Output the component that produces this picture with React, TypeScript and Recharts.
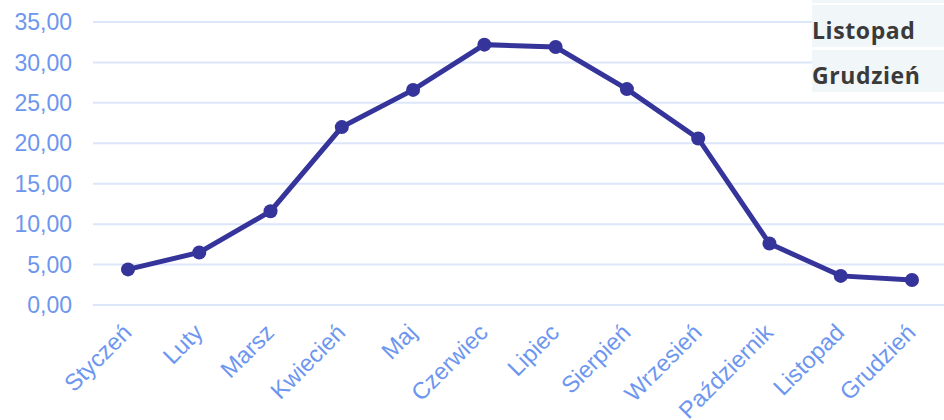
import React from "react";
import { LineChart, Line, XAxis, YAxis, CartesianGrid } from "recharts";

const months = ["Styczeń", "Luty", "Marsz", "Kwiecień", "Maj", "Czerwiec", "Lipiec", "Sierpień", "Wrzesień", "Październik", "Listopad", "Grudzień"];
const values = [4.4, 6.5, 11.6, 22.0, 26.6, 32.2, 31.9, 26.7, 20.6, 7.6, 3.6, 3.1];
const yTicks = [0, 5, 10, 15, 20, 25, 30, 35];
const boxRows = ["Listopad", "Grudzień"];

const data = months.map((m, i) => ({ month: m, value: values[i] }));

const LABEL = "#6d96ef";
const LINE = "#35349a";

const XTick = (props: any) => {
  const { x, y, payload } = props;
  return (
    <g transform={`translate(${x + 5},${y + 29})`}>
      <text
        x={0}
        y={0}
        textAnchor="end"
        transform="rotate(-45)"
        fill={LABEL}
        fontFamily="'Liberation Sans', Arial, sans-serif"
        fontSize={23.5}
      >
        {payload.value}
      </text>
    </g>
  );
};

export default function App() {
  return (
    <div style={{ position: "fixed", left: 0, top: 0, width: 944, height: 420, background: "#fff" }}>
      <LineChart width={944} height={420} data={data} margin={{ top: 22, right: 0, bottom: 15, left: 0 }}>
        <CartesianGrid vertical={false} stroke="#dce6fb" strokeWidth={2} />
        <XAxis
          dataKey="month"
          axisLine={false}
          tickLine={false}
          tickSize={0}
          tickMargin={0}
          height={100}
          interval={0}
          padding={{ left: 35, right: 32 }}
          tick={<XTick />}
        />
        <YAxis
          width={93}
          domain={[0, 35]}
          ticks={yTicks}
          axisLine={false}
          tickLine={false}
          tickSize={0}
          tickMargin={21}
          tickFormatter={(v: number) => v.toFixed(2).replace(".", ",")}
          tick={{ fill: LABEL, fontSize: 23, fontFamily: "'Liberation Sans', Arial, sans-serif" }}
        />
        <Line
          dataKey="value"
          stroke={LINE}
          strokeWidth={5}
          dot={{ r: 7, fill: LINE, stroke: "none" }}
          isAnimationActive={false}
        />
      </LineChart>
      <div style={{ position: "absolute", left: 812, top: 0, width: 132, height: 3, background: "#f1f6f9" }} />
      {boxRows.map((r, i) => (
        <div
          key={r}
          style={{
            position: "absolute",
            left: 812,
            top: 5 + i * 45,
            width: 132,
            height: 42,
            background: "#f1f6f9",
            color: "#3a3a3a",
            fontFamily: "'Open Sans', sans-serif",
            fontWeight: 700,
            fontSize: 23,
            letterSpacing: 0.6,
            lineHeight: "42px",
            paddingLeft: 0,
            boxSizing: "border-box",
            overflow: "hidden",
          }}
        >
          <span style={{ position: "relative", top: 4 }}>{r}</span>
        </div>
      ))}
    </div>
  );
}
